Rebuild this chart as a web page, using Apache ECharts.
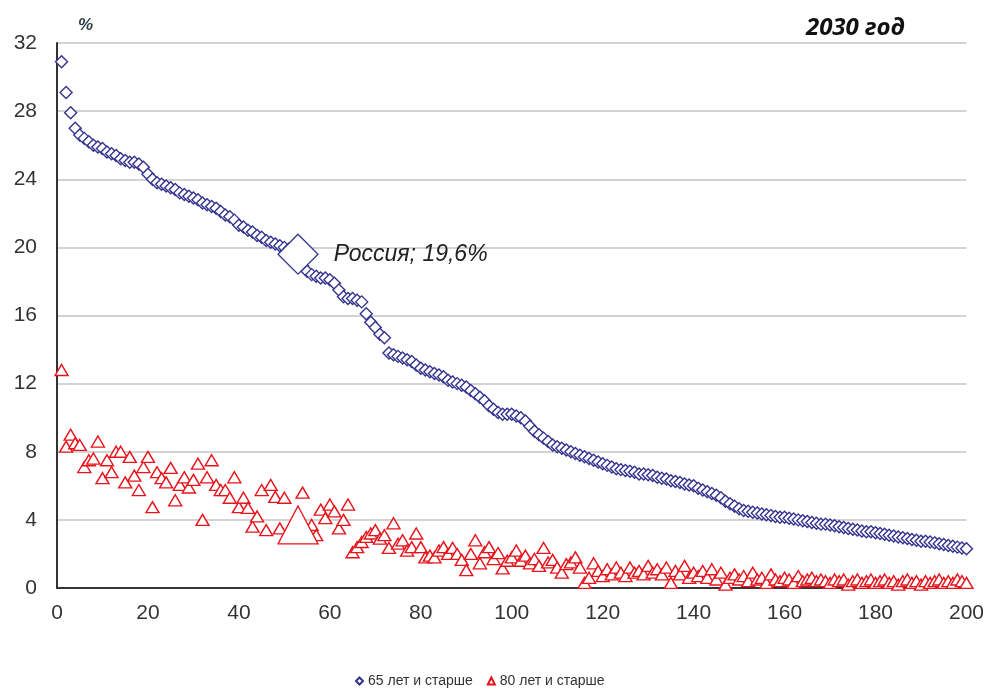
<!DOCTYPE html>
<html>
<head>
<meta charset="utf-8">
<script src="https://cdn.jsdelivr.net/npm/echarts@6/dist/echarts.min.js"></script>
<style>
html,body{margin:0;padding:0;background:#fff;}
#chart{width:987px;height:693px;}
</style>
</head>
<body>
<div id="chart"></div>
<script>
// Share of population aged 65+ (sorted, countries ranked 1..200), 2030
const age65 = [
30.9,29.1,27.9,27.0,26.6,26.4,26.2,26.0,25.9,25.8,
25.6,25.5,25.4,25.2,25.1,25.0,25.0,24.9,24.7,24.3,
24.0,23.8,23.7,23.6,23.5,23.4,23.2,23.1,23.0,22.9,
22.8,22.6,22.5,22.4,22.3,22.1,21.9,21.8,21.6,21.3,
21.2,21.0,20.9,20.7,20.6,20.4,20.3,20.2,20.1,20.0,
19.9,19.8,19.6,18.9,18.6,18.4,18.3,18.2,18.2,18.1,
17.9,17.5,17.1,17.0,17.0,16.9,16.8,16.1,15.6,15.3,
14.9,14.7,13.8,13.7,13.6,13.5,13.4,13.3,13.1,12.9,
12.8,12.7,12.6,12.5,12.4,12.2,12.1,12.0,11.9,11.8,
11.6,11.4,11.2,11.0,10.7,10.5,10.3,10.2,10.2,10.2,
10.1,10.0,9.8,9.5,9.2,9.0,8.8,8.6,8.4,8.3,
8.2,8.1,8.0,7.9,7.8,7.7,7.6,7.5,7.4,7.3,
7.2,7.1,7.0,6.95,6.9,6.85,6.8,6.7,6.7,6.65,
6.6,6.5,6.45,6.4,6.3,6.25,6.2,6.1,6.05,6.0,
5.85,5.75,5.65,5.55,5.45,5.3,5.1,4.95,4.8,4.65,
4.55,4.5,4.45,4.4,4.35,4.3,4.25,4.2,4.15,4.15,
4.1,4.05,4.0,3.95,3.9,3.85,3.8,3.75,3.75,3.7,
3.65,3.6,3.55,3.5,3.45,3.4,3.35,3.3,3.3,3.25,
3.2,3.15,3.1,3.05,3.0,2.95,2.9,2.85,2.8,2.75,
2.75,2.7,2.65,2.6,2.55,2.5,2.45,2.4,2.35,2.3
];
// Share of population aged 80+ for the same countries
const age80 = [
12.8,8.3,9.0,8.5,8.4,7.1,7.5,7.6,8.6,6.45,
7.5,6.8,8.0,8.0,6.2,7.7,6.6,5.75,7.1,7.7,
4.75,6.8,6.45,6.2,7.05,5.15,6.05,6.5,5.9,6.35,
7.3,4.0,6.5,7.5,6.05,5.75,5.75,5.3,6.5,4.75,
5.3,4.7,3.6,4.2,5.75,3.4,6.05,5.35,3.5,5.3,
3.3,3.6,3.7,5.6,3.3,3.7,3.1,4.6,4.1,4.9,
4.5,3.5,4.0,4.9,2.1,2.4,2.7,3.0,3.2,3.4,
2.9,3.1,2.35,3.8,2.6,2.8,2.2,2.4,3.2,2.4,
1.8,1.9,1.8,2.2,2.4,2.0,2.35,2.0,1.65,1.05,
2.0,2.8,1.45,2.1,2.4,1.7,2.05,1.15,1.6,1.8,
2.2,1.6,1.9,1.45,1.7,1.3,2.35,1.5,1.65,1.2,
0.9,1.4,1.5,1.8,1.2,0.3,0.6,1.45,1.0,0.7,
1.1,0.8,1.2,0.9,0.7,1.2,0.9,1.0,0.8,1.3,
0.9,1.1,0.8,1.2,0.3,1.0,0.8,1.3,0.6,0.9,
0.7,1.0,0.6,1.1,0.5,0.9,0.2,0.6,0.8,0.5,
0.7,0.4,0.9,0.5,0.6,0.3,0.8,0.5,0.4,0.6,
0.5,0.3,0.7,0.4,0.5,0.6,0.4,0.5,0.4,0.3,
0.5,0.4,0.5,0.2,0.4,0.5,0.3,0.4,0.5,0.3,
0.4,0.5,0.3,0.4,0.2,0.4,0.5,0.3,0.4,0.2,
0.4,0.3,0.4,0.5,0.3,0.4,0.3,0.5,0.4,0.3
];
const russiaRank = 53;
const russiaLabel = 'Россия; 19,6%';
const seriesNames = ['65 лет и старше', '80 лет и старше'];
const yTicks = [0, 4, 8, 12, 16, 20, 24, 28, 32];
const xTicks = [0, 20, 40, 60, 80, 100, 120, 140, 160, 180, 200];
const titleText = '2030 год';
const unitText = '%';

const ranks = age65.map((_, i) => i + 1);
const blue = '#34348f';
const red = '#e8141c';

const chart = echarts.init(document.getElementById('chart'));
chart.setOption({
  backgroundColor: '#ffffff',
  animation: false,
  textStyle: { fontFamily: 'Arial, "Liberation Sans", sans-serif' },
  grid: { left: 57, right: 19, top: 43, bottom: 105, containLabel: false },
  title: [
    { text: titleText, right: 77, top: 11,
      textStyle: { fontFamily: '"Open Sans", Arial, sans-serif', fontStyle: 'italic', fontWeight: 'bold', fontSize: 24, color: '#111' } },
    { text: unitText, left: 73, top: 12,
      textStyle: { fontFamily: 'Arial, sans-serif', fontStyle: 'italic', fontWeight: 'bold', fontSize: 17, color: '#2e3d44' } }
  ],
  legend: {
    data: [
      { name: seriesNames[0], icon: 'diamond' },
      { name: seriesNames[1], icon: 'triangle' }
    ],
    bottom: 0, left: 350,
    itemWidth: 7, itemHeight: 7, itemGap: 14,
    textStyle: { fontSize: 14, color: '#333' }
  },
  xAxis: {
    type: 'value', min: 0, max: 200, interval: 20,
    axisLine: { lineStyle: { color: '#333', width: 2 } },
    axisTick: { show: false },
    splitLine: { show: false },
    axisLabel: { fontSize: 21, color: '#333', margin: 15,
      customValues: xTicks }
  },
  yAxis: {
    type: 'value', min: 0, max: 32, interval: 4,
    axisLine: { show: true, lineStyle: { color: '#333', width: 2 } },
    axisTick: { show: false },
    splitLine: { lineStyle: { color: '#c4c4c4', width: 1.5 } },
    axisLabel: { fontSize: 21, color: '#333', margin: 20 }
  },
  series: [
    {
      name: seriesNames[0], type: 'scatter', symbol: 'diamond', symbolSize: 12,
      data: ranks.map((r, i) => [r, age65[i]]),
      itemStyle: { color: '#fff', borderColor: blue, borderWidth: 1.4, opacity: 1 },
      z: 3
    },
    {
      name: seriesNames[1], type: 'scatter', symbol: 'triangle', symbolSize: [13, 11],
      data: ranks.map((r, i) => [r, age80[i]]),
      itemStyle: { color: '#fff', borderColor: red, borderWidth: 1.4, opacity: 1 },
      z: 4
    },
    {
      name: 'Россия 65', type: 'scatter', symbol: 'diamond', symbolSize: 40,
      data: [[russiaRank, age65[russiaRank - 1]]],
      itemStyle: { color: '#fff', borderColor: blue, borderWidth: 1.3, opacity: 1 },
      label: { show: true, position: 'right', distance: 15, formatter: russiaLabel,
        fontStyle: 'italic', fontSize: 23, color: '#222' },
      z: 5
    },
    {
      name: 'Россия 80', type: 'scatter', symbol: 'triangle', symbolSize: [40, 38],
      data: [[russiaRank, age80[russiaRank - 1]]],
      itemStyle: { color: '#fff', borderColor: red, borderWidth: 1.3, opacity: 1 },
      z: 5
    }
  ]
});
</script>
</body>
</html>
